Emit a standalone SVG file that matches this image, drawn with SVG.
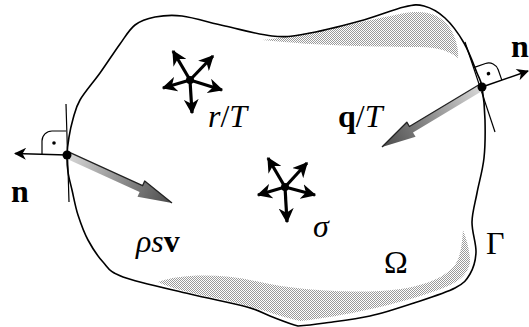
<svg xmlns="http://www.w3.org/2000/svg" width="529" height="327" viewBox="0 0 529 327">
<style>
.bd{fill:none;stroke:#000;stroke-width:1.6}
.tl{fill:none;stroke:#000;stroke-width:1.2}
.na{fill:none;stroke:#000;stroke-width:1.5}
.st{fill:none;stroke:#000;stroke-width:3.2}
.ra{fill:none;stroke:#000;stroke-width:1.2}
.t{font-family:"Liberation Serif","Times New Roman",serif;font-size:32px;fill:#000}
.i{font-style:italic}
.b{font-weight:bold}
</style>
<defs>
<pattern id="dots" width="2" height="2" patternUnits="userSpaceOnUse">
<rect width="2" height="2" fill="#fff"/>
<rect x="0" y="0" width="1" height="1" fill="#9a9a9a"/>
<rect x="1" y="1" width="1" height="1" fill="#9a9a9a"/>
</pattern>
<marker id="ah" viewBox="0 0 12 12" refX="11" refY="6" markerWidth="15" markerHeight="15" markerUnits="userSpaceOnUse" orient="auto">
<path d="M0,0 L12,6 L0,12 L3.5,6 Z" fill="#000"/>
</marker>
<marker id="ahs" viewBox="0 0 12 12" refX="11" refY="6" markerWidth="13" markerHeight="12" markerUnits="userSpaceOnUse" orient="auto">
<path d="M0,0 L12,6 L0,12 L3.5,6 Z" fill="#000"/>
</marker>
<linearGradient id="g1" gradientUnits="userSpaceOnUse" x1="67" y1="155" x2="172" y2="203">
<stop offset="0" stop-color="#d8d8d8"/>
<stop offset="1" stop-color="#4a4a4a"/>
</linearGradient>
<linearGradient id="g2" gradientUnits="userSpaceOnUse" x1="482" y1="87" x2="382" y2="147">
<stop offset="0" stop-color="#d8d8d8"/>
<stop offset="1" stop-color="#4a4a4a"/>
</linearGradient>
</defs>

<g id="region">
<path d="M262,40 C300,36 350,24 400,14 C425,9 440,14 450,28 C456,38 459,50 458,58 C450,52 440,47 420,47 C380,47 320,46 262,40 Z" fill="url(#dots)"/>
<path d="M158,282 C180,274 220,273 260,282 C290,289 340,293 380,291 C420,289 445,278 455,265 C462,254 462,240 463,230 C467,240 470,252 470,262 C468,275 458,283 438,290 C400,304 340,317 300,321 C280,317 260,308 220,299 C190,293 170,288 158,282 Z" fill="url(#dots)"/>
<path class="bd" d="M67,155 C67.2,149.2 68,143 69,137 S71.2,125.2 73,119 S75.5,107.7 80,100 S93.3,82.3 100,73 S114.2,52 120,44 S129.2,29.5 135,25 S147.2,18.5 155,17 S170.3,14.5 182,16 S210,22.7 225,26 S258.7,34.7 272,36 S290.3,36.5 305,34 S343.5,25.5 360,21 S393.3,9.5 404,7 S417.2,4.2 424,6 S438.3,11.8 445,18 S458.7,33.8 464,43 S474,65.7 477,73 S480.7,79.2 482,87 S484.7,108.2 485,120 S485.3,145.8 484,158 S479,182.3 477,193 S472.2,212.2 472,222 S476.3,243.3 476,252 S473.5,268 470,274 S464.3,283.2 455,288 S428.2,298.3 414,303 S384.8,312.7 370,316 S337,321.3 325,323 S306,325.5 298,326 C290,324 278.5,319.2 270,316 S260.3,310.7 247,307 S210.7,299 190,294 S137.5,282.3 123,277 S108.8,268.2 103,262 S92.2,247.8 88,240 S80.7,223.3 78,215 S73.7,197.2 72,190 S68.8,177.8 68,172 S66.8,160.8 67,155 Z"/>
</g>

<g id="source-r">
<g class="st" marker-end="url(#ah)">
<line x1="190" y1="80" x2="173" y2="51"/>
<line x1="190" y1="80" x2="213" y2="56"/>
<line x1="190" y1="80" x2="163" y2="88"/>
<line x1="190" y1="80" x2="222" y2="90"/>
<line x1="190" y1="80" x2="192" y2="113"/>
</g>
<circle cx="190" cy="80" r="4" fill="#000"/>
<text class="t" x="208" y="127"><tspan class="i">r</tspan>/<tspan class="i">T</tspan></text>
</g>

<g id="source-sigma">
<g class="st" marker-end="url(#ah)">
<line x1="285" y1="187" x2="268" y2="158"/>
<line x1="285" y1="187" x2="307" y2="163"/>
<line x1="285" y1="187" x2="258" y2="195"/>
<line x1="285" y1="187" x2="315" y2="195"/>
<line x1="285" y1="187" x2="287" y2="222"/>
</g>
<circle cx="285" cy="187" r="4" fill="#000"/>
<text class="t i" x="313" y="237">σ</text>
</g>

<g id="left-point">
<line class="tl" x1="66" y1="104" x2="69" y2="202"/>
<path class="ra" d="M42,154 V141 A10,10 0 0 1 52,131 H66"/>
<circle cx="54" cy="143" r="1.8" fill="#000"/>
<line class="na" x1="67" y1="155" x2="15" y2="153.5" marker-end="url(#ahs)"/>
<path d="M68.5,151.8 L142.6,185.7 L144.7,181 L172,203 L137.5,196.8 L139.6,192.1 L65.5,158.2 Z" fill="url(#g1)"/>
<path d="M68.5,151.8 L142.6,185.7 L144.7,181 L172,203" fill="none" stroke="#222" stroke-width="1.3" stroke-linejoin="round"/>
<circle cx="67" cy="155" r="4.5" fill="#000"/>
<text class="t b" x="11" y="202">n</text>
<text class="t" x="136" y="252"><tspan class="i">ρs</tspan><tspan class="b">v</tspan></text>
</g>

<g id="right-point">
<line class="tl" x1="465" y1="42" x2="495" y2="132"/>
<g transform="translate(482,87) rotate(-19.2)">
<path class="ra" d="M0,-21 H11 A10,10 0 0 1 21,-11 V0"/>
<circle cx="10.5" cy="-10.5" r="1.8" fill="#000"/>
</g>
<line class="na" x1="482" y1="87" x2="528" y2="71" marker-end="url(#ahs)"/>
<path d="M480.2,84 L409.4,126.5 L406.8,122.2 L382,147 L415.6,136.8 L413,132.5 L483.8,90 Z" fill="url(#g2)"/>
<path d="M480.2,84 L409.4,126.5 L406.8,122.2 L382,147" fill="none" stroke="#222" stroke-width="1.3" stroke-linejoin="round"/>
<circle cx="482" cy="87" r="4.5" fill="#000"/>
<text class="t b" x="511" y="57">n</text>
<text class="t" x="338" y="127"><tspan class="b">q</tspan>/<tspan class="i">T</tspan></text>
</g>

<g id="labels">
<text class="t" x="384" y="273">Ω</text>
<text class="t" x="486" y="254">Γ</text>
</g>
</svg>
